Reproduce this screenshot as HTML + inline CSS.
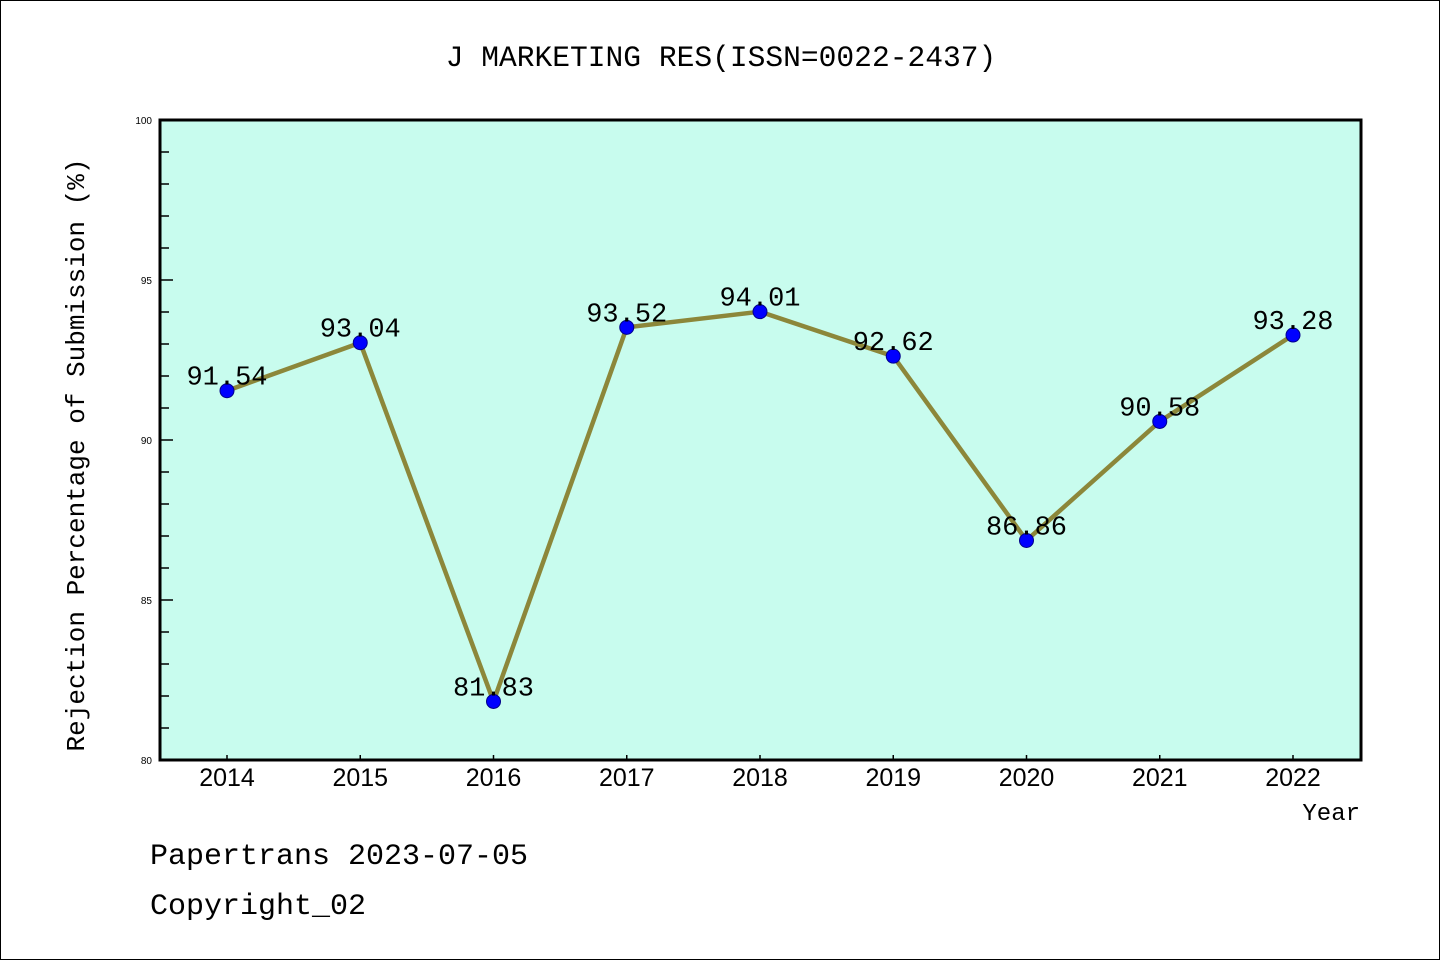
<!DOCTYPE html>
<html><head><meta charset="utf-8"><style>
html,body{margin:0;padding:0;background:#fff}
svg{display:block}
</style></head><body>
<svg width="1440" height="960" xmlns="http://www.w3.org/2000/svg">
<rect x="0.5" y="0.5" width="1439" height="959" fill="#fff" stroke="#000" stroke-width="1"/>
<text x="721" y="66" text-anchor="middle" font-family="Liberation Mono, monospace" font-size="29.6">J MARKETING RES(ISSN=0022-2437)</text>
<rect x="160" y="120" width="1201" height="640" fill="#c8fcee"/>
<g id="axes"></g>
<g id="series"></g>
<rect x="160" y="120" width="1201" height="640" fill="none" stroke="#000" stroke-width="3"/>
<text transform="translate(84,455) rotate(-90)" text-anchor="middle" font-family="Liberation Mono, monospace" font-size="26">Rejection Percentage of Submission (%)</text>
<text x="1360" y="820" text-anchor="end" font-family="Liberation Mono, monospace" font-size="24">Year</text>
<text x="150" y="864" font-family="Liberation Mono, monospace" font-size="30">Papertrans 2023-07-05</text>
<text x="150" y="914" font-family="Liberation Mono, monospace" font-size="30">Copyright_02</text>
</svg>
<script>
const years = ["2014","2015","2016","2017","2018","2019","2020","2021","2022"];
const rates = [91.54, 93.04, 81.83, 93.52, 94.01, 92.62, 86.86, 90.58, 93.28];
const yTicks = [80, 85, 90, 95, 100];
const NS = "http://www.w3.org/2000/svg";
const yMin = 80, yMax = 100, yTop = 120, yBot = 760;
function yS(v){ return yBot - (v - yMin) / (yMax - yMin) * (yBot - yTop); }
function xS(i){ return 227 + i * (1293 - 227) / (years.length - 1); }
function mk(tag, attrs, parent){ const e = document.createElementNS(NS, tag); for (const k in attrs) e.setAttribute(k, attrs[k]); parent.appendChild(e); return e; }
const ax = document.getElementById("axes");
for (let v = yMin + 1; v < yMax; v++) {
  const major = v % 5 === 0;
  const t = mk("line", {x1:160, x2:160 + (major ? 13 : 9), y1:yS(v), y2:yS(v), stroke:"#000", "stroke-width":1.5}, ax);
  
  
}
yTicks.forEach(v => {
  const t = mk("text", {x:152, y:yS(v) + 4, "text-anchor":"end", "font-family":"Liberation Sans, sans-serif", "font-size":10}, ax);
  t.textContent = v;
  
  
});
years.forEach((y, i) => {
  const t = mk("line", {x1:xS(i), x2:xS(i), y1:760, y2:755, stroke:"#000", "stroke-width":1.5}, ax);
  
  
  const l = mk("text", {x:xS(i), y:786, "text-anchor":"middle", "font-family":"Liberation Sans, sans-serif", "font-size":25}, ax);
  l.textContent = y;
  
  
});
const sg = document.getElementById("series");
const line = mk("polyline", {points: rates.map((v, i) => xS(i) + "," + yS(v)).join(" "), fill:"none", stroke:"#8c873a", "stroke-width":4.5, "stroke-linejoin":"round"}, sg);


rates.forEach((v, i) => {
  const c = mk("circle", {cx:xS(i), cy:yS(v), r:7, fill:"#0000ff", stroke:"#00008b", "stroke-width":1}, sg);
  
  
});
rates.forEach((v, i) => {
  const t = mk("text", {x:xS(i), y:yS(v) - 6, "text-anchor":"middle", "font-family":"Liberation Mono, monospace", "font-size":27}, sg);
  t.textContent = v.toFixed(2);
  
  
});
</script>
</body></html>
